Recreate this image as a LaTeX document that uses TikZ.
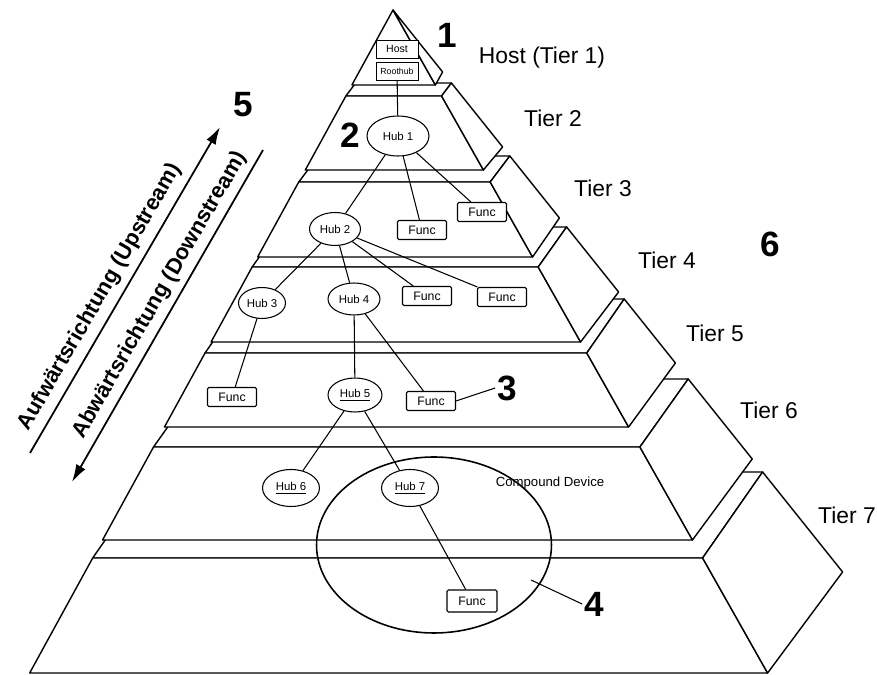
\documentclass[tikz,border=0pt]{standalone}
\usepackage{fontspec}
\setmainfont{Liberation Sans}
\usetikzlibrary{shapes.geometric,arrows.meta}

% x positions of the three pyramid edges at height y
\newcommand\leftx[1]{(393-0.548*(#1-10))}
\newcommand\frontx[1]{(393+0.565*(#1-10))}
\newcommand\backx[1]{(393+0.8*(#1-10))}

\begin{document}
\begin{tikzpicture}[x=0.02cm, y=-0.02cm,
  tier/.style={fill=white, draw=black, line width=0.8pt, line join=round},
  hostbox/.style={rectangle, draw, fill=white, line width=0.45pt, minimum width=0.84cm,
    minimum height=0.36cm, inner sep=0pt, font=\fontsize{6}{7}\selectfont},
  hub/.style={ellipse, draw, fill=white, line width=0.6pt, inner sep=0pt,
    minimum width=1.02cm, minimum height=0.66cm, font=\fontsize{6.5}{7}\selectfont},
  func/.style={rectangle, draw, fill=white, line width=0.6pt, rounded corners=0.8pt,
    minimum width=0.98cm, minimum height=0.38cm, inner sep=0pt, font=\fontsize{7}{8}\selectfont},
  link/.style={line width=0.6pt},
  tierlabel/.style={font=\fontsize{13}{15}\selectfont},
  numlabel/.style={font=\fontsize{20}{22}\selectfont\bfseries, inner sep=1pt},
  dirlabel/.style={font=\fontsize{12.5}{14}\selectfont\bfseries, rotate=60},
  dirarrow/.style={line width=1pt, -{Latex[length=10pt, width=6pt]}}]

  \useasboundingbox (0,0) rectangle (877,675);

  % slabs, lowest first: top / bottom / back / tip
  \foreach \ya/\yb/\yk/\yr in {558/673/472/572, 447/540/379/459, 353/427/299/363,
                               267/342/227/292, 182/257/156/218, 96/170/83/147} {
    \filldraw[tier] ({\leftx{\ya}},\ya) -- ({\frontx{\ya}},\ya) -- ({\backx{\yk}},\yk)
      -- ({\leftx{\ya}+\backx{\yk}-\frontx{\ya}},\yk) -- cycle;
    \filldraw[tier] ({\leftx{\ya}},\ya) -- ({\frontx{\ya}},\ya) -- ({\frontx{\yb}},\yb)
      -- ({\leftx{\yb}},\yb) -- cycle;
    \filldraw[tier] ({\frontx{\ya}},\ya) -- ({\backx{\yk}},\yk) -- ({\backx{\yr}},\yr)
      -- ({\frontx{\yb}},\yb) -- cycle;
  }
  % top piece
  \filldraw[tier] (393,10) -- ({\frontx{85}},85) -- ({\leftx{85}},85) -- cycle;
  \filldraw[tier] (393,10) -- ({\backx{72}},72) -- ({\frontx{85}},85) -- cycle;

  % compound device
  \node[ellipse, draw, line width=0.9pt, minimum width=4.7cm, minimum height=3.52cm] (compound) at (434,545) {};
  \node[font=\fontsize{7.5}{8}\selectfont] (compoundtext) at (550,483) {Compound Device};

  % host and hubs
  \node[hostbox] (host) at (397,49) {Host};
  \node[hostbox, font=\fontsize{5}{6}\selectfont] (roothub) at (397,71) {Roothub};
  \node[hub, minimum width=1.24cm, minimum height=0.8cm] (hub1) at (398,136) {Hub 1};
  \node[hub] (hub2) at (335,229) {Hub 2};
  \node[hub, minimum width=0.94cm, minimum height=0.62cm] (hub3) at (262,303) {Hub 3};
  \node[hub, minimum width=1.04cm, minimum height=0.64cm] (hub4) at (354,299) {Hub 4};
  \node[hub, minimum width=1.08cm, minimum height=0.68cm] (hub5) at (355,395) {\underline{Hub 5}};
  \node[hub, minimum width=1.14cm, minimum height=0.74cm] (hub6) at (291,488) {\underline{Hub 6}};
  \node[hub, minimum width=1.14cm, minimum height=0.74cm] (hub7) at (410,488) {\underline{Hub 7}};

  \node[func] (funcA) at (422,230) {Func};
  \node[func] (funcB) at (482,212) {Func};
  \node[func] (funcC) at (427,296) {Func};
  \node[func] (funcD) at (502,297) {Func};
  \node[func] (funcE) at (232,397) {Func};
  \node[func] (funcF) at (431,401) {Func};
  \node[func, minimum width=1cm, minimum height=0.44cm] (funcG) at (472,601) {Func};

  \draw[link] (roothub) -- (hub1);
  \draw[link] (hub1) -- (hub2);
  \draw[link] (hub1) -- (funcA);
  \draw[link] (hub1) -- (funcB);
  \draw[link] (hub2) -- (hub3);
  \draw[link] (hub2) -- (hub4);
  \draw[link] (hub2) -- (funcC);
  \draw[link] (hub2) -- (funcD);
  \draw[link] (hub3) -- (funcE);
  \draw[link] (hub4) -- (hub5);
  \draw[link] (hub4) -- (funcF);
  \draw[link] (hub5) -- (hub6);
  \draw[link] (hub5) -- (hub7);
  \draw[link] (hub7) -- (funcG);

  % tier names
  \node[tierlabel] (tier1) at (542,58) {Host (Tier 1)};
  \node[tierlabel] (tier2) at (553,118) {Tier 2};
  \node[tierlabel] (tier3) at (603,188) {Tier 3};
  \node[tierlabel] (tier4) at (667,260) {Tier 4};
  \node[tierlabel] (tier5) at (715,333) {Tier 5};
  \node[tierlabel] (tier6) at (769,410) {Tier 6};
  \node[tierlabel] (tier7) at (847,515) {Tier 7};

  % reference numbers
  \node[numlabel] (num1) at (447,35) {1};
  \node[numlabel] (num2) at (350,135) {2};
  \node[numlabel] (num3) at (507,388) {3};
  \node[numlabel] (num4) at (594,604) {4};
  \node[numlabel] (num5) at (243,105) {5};
  \node[numlabel] (num6) at (770,244) {6};
  \coordinate (c4) at (531,580);
  \draw[link] (funcF.east) -- (num3.west);
  \draw[link] (c4) -- (num4.west);

  % data direction
  \coordinate (up0) at (30,453);
  \coordinate (up1) at (220,127);
  \coordinate (dn0) at (263,150);
  \coordinate (dn1) at (72,482);
  \draw[dirarrow] (up0) -- (up1);
  \draw[dirarrow] (dn0) -- (dn1);
  \node[dirlabel] (uptext) at (100,297) {Aufwärtsrichtung (Upstream)};
  \node[dirlabel] (downtext) at (160,295) {Abwärtsrichtung (Downstream)};
\end{tikzpicture}
\end{document}
